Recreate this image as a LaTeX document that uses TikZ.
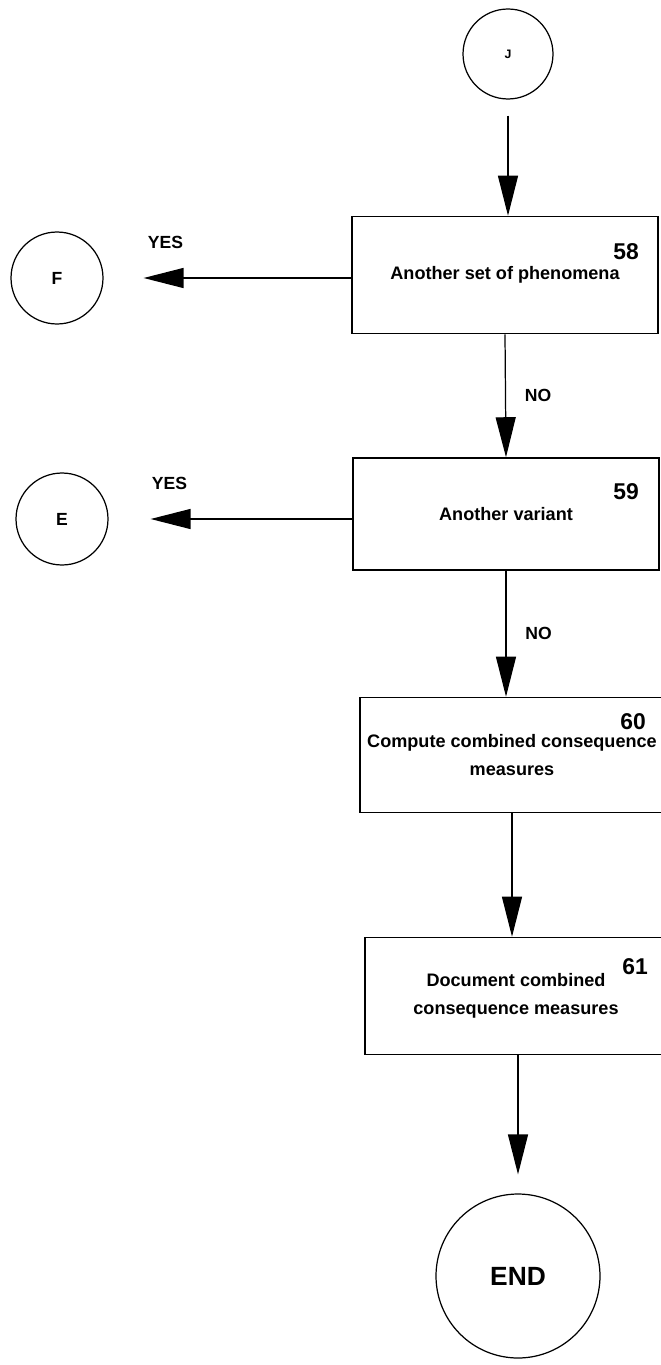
\documentclass[tikz,border=0pt]{standalone}
\usepackage{fontspec}
\setmainfont{Liberation Sans}
\usetikzlibrary{arrows.meta, positioning}

\begin{document}
\begin{tikzpicture}[
    x=0.02cm, y=-0.02cm,
    box/.style={rectangle, draw, line width=0.9pt, minimum width=6.12cm, minimum height=2.34cm, align=center, font=\fontsize{10.3}{16}\selectfont\bfseries},
    conn/.style={circle, draw, line width=0.7pt, minimum size=1.84cm, font=\fontsize{10}{12}\selectfont\bfseries},
    num/.style={anchor=east, font=\fontsize{13}{15}\selectfont\bfseries},
    answer/.style={font=\fontsize{10}{12}\selectfont\bfseries},
    arrow/.style={-{Triangle[length=0.8cm, width=0.4cm]}, line width=0.7pt}
]
\useasboundingbox (0,0) rectangle (661,1365);

% Off-page connectors
\node[conn, minimum size=1.8cm, font=\fontsize{7}{9}\selectfont\bfseries] (J) at (508,54) {J};
\node[conn] (F) at (57,278) {F};
\node[conn] (E) at (62,519) {E};
\node[conn, minimum size=3.28cm, font=\fontsize{15}{18}\selectfont\bfseries] (END) at (518,1276) {END};

% Steps
\node[box] (b58) at (505,275) {Another set of phenomena};
\node[num] (n58) at (645,252) {58};
\node[box, minimum height=2.24cm] (b59) at (506,514) {Another variant};
\node[num] (n59) at (645,492) {59};
\node[box, minimum width=6.08cm, minimum height=2.3cm] (b60) at (512,755) {Compute combined consequence\\measures};
\node[num] (n60) at (652,722) {60};
\node[box, minimum width=6.04cm] (b61) at (516,996) {Document combined\\consequence measures};
\node[num] (n61) at (654,967) {61};

% Connections
\draw[arrow, shorten <=0.32cm] (J) -- (J |- b58.north);
\draw[arrow, shorten >=0.8cm] (b58.west |- F) -- (F) node[answer, pos=0.75, above=0.45cm] (yes58) {YES};
\draw[arrow] (b58.south) -- (b59.north) node[answer, midway, right=0.26cm] (no58) {NO};
\draw[arrow, shorten >=0.84cm] (b59.west |- E) -- (E) node[answer, pos=0.75, above=0.45cm] (yes59) {YES};
\draw[arrow] (b59.south) -- (b59.south |- b60.north) node[answer, midway, right=0.26cm] (no59) {NO};
\draw[arrow] (b60.south) -- (b60.south |- b61.north);
\draw[arrow, shorten >=0.38cm] (END.north |- b61.south) -- (END.north);

\end{tikzpicture}
\end{document}
